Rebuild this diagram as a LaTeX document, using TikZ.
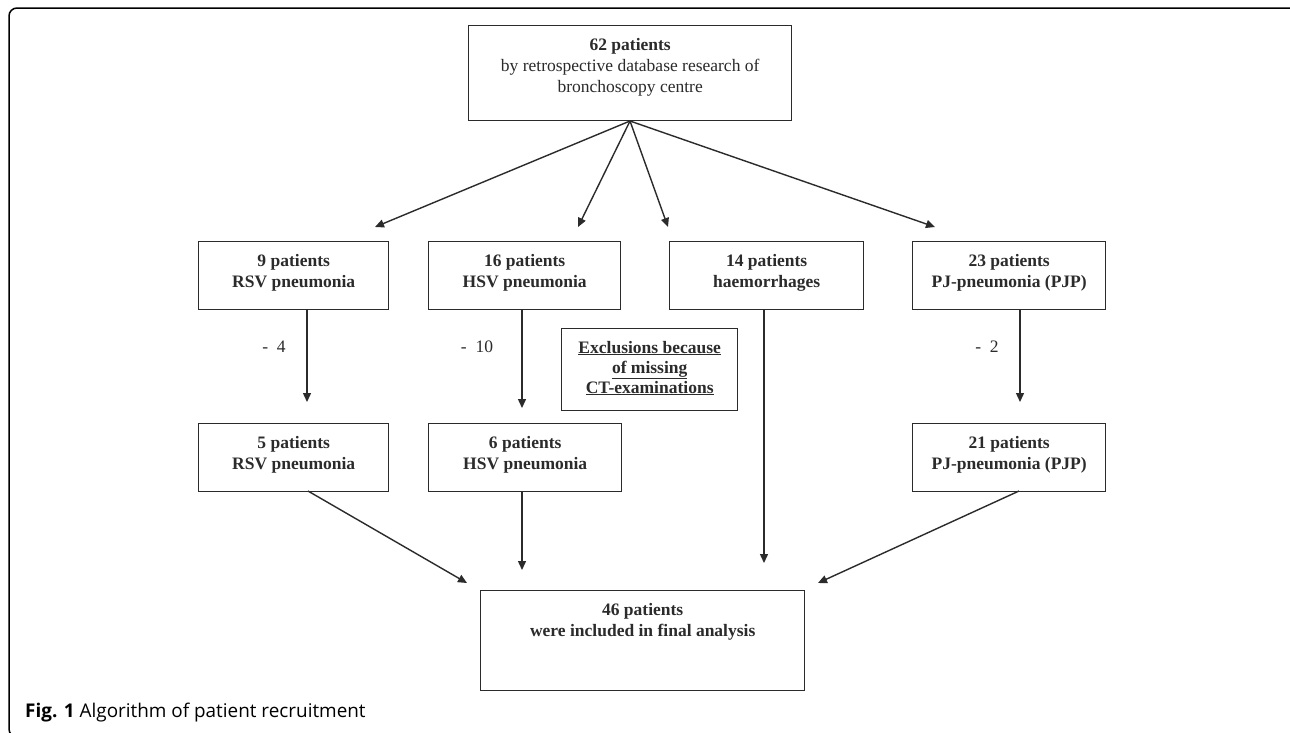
\documentclass[tikz,border=0pt]{standalone}
\usepackage{fontspec}
\setmainfont{Liberation Serif}
\newfontfamily\capfont{Open Sans}
\usetikzlibrary{arrows.meta}
\definecolor{ink}{HTML}{2B2B2B}
\begin{document}
\begin{tikzpicture}[x=1pt,y=-1pt,
  box/.style={draw=ink, line width=1.4pt, rectangle, inner sep=0pt, anchor=north west},
  txt/.style={inner sep=0pt, anchor=north, align=center, text=ink, font=\fontsize{17.5}{21}\selectfont},
  lbl/.style={inner sep=0pt, text=ink, font=\fontsize{17.5}{21}\selectfont},
  conn/.style={draw=ink, line width=1.4pt, -{Triangle[length=9pt,width=8pt]}},
  frame/.style={draw=black, line width=1.5pt, rounded corners=8pt}]
\useasboundingbox (0,0) rectangle (1290,732);
\fill[white] (0,0) rectangle (1290,732);
% outer frame
\draw[frame] (1297,30) -- (1297,8) -- (9,8) -- (9,737) -- (40,737);

% boxes
\node[box, minimum width=323pt, minimum height=95pt] (top) at (468,25) {};
\node[txt] (topt) at ([yshift=-12.7pt]top.north) {\textbf{62 patients}\\by retrospective database research of\\bronchoscopy centre};

\node[box, minimum width=190pt, minimum height=68pt] (rsva) at (198,241) {};
\node[txt] (rsvat) at ([yshift=-12.7pt]rsva.north) {\textbf{9 patients}\\\textbf{RSV pneumonia}};
\node[box, minimum width=192pt, minimum height=68pt] (hsva) at (428,241) {};
\node[txt] (hsvat) at ([yshift=-12.7pt]hsva.north) {\textbf{16 patients}\\\textbf{HSV pneumonia}};
\node[box, minimum width=194pt, minimum height=68pt] (haem) at (669,241) {};
\node[txt] (haemt) at ([yshift=-12.7pt]haem.north) {\textbf{14 patients}\\\textbf{haemorrhages}};
\node[box, minimum width=193pt, minimum height=68pt] (pjpa) at (912,241) {};
\node[txt] (pjpat) at ([yshift=-12.7pt]pjpa.north) {\textbf{23 patients}\\\textbf{PJ-pneumonia (PJP)}};

\node[box, minimum width=176pt, minimum height=82pt] (excl) at (561,328) {};
\node[txt, font=\fontsize{17.5}{20}\selectfont] (exclt) at ([yshift=-12.7pt]excl.north) {\textbf{\underline{Exclusions because}}\\\textbf{\underline{of missing}}\\\textbf{\underline{CT-examinations}}};

\node[box, minimum width=190pt, minimum height=68pt] (rsvb) at (198,423) {};
\node[txt] (rsvbt) at ([yshift=-12.7pt]rsvb.north) {\textbf{5 patients}\\\textbf{RSV pneumonia}};
\node[box, minimum width=193pt, minimum height=68pt] (hsvb) at (428,423) {};
\node[txt] (hsvbt) at ([yshift=-12.7pt]hsvb.north) {\textbf{6 patients}\\\textbf{HSV pneumonia}};
\node[box, minimum width=193pt, minimum height=68pt] (pjpb) at (912,423) {};
\node[txt] (pjpbt) at ([yshift=-12.7pt]pjpb.north) {\textbf{21 patients}\\\textbf{PJ-pneumonia (PJP)}};

\node[box, minimum width=324pt, minimum height=100pt] (fin) at (480,590) {};
\node[txt] (fint) at ([yshift=-13.5pt]fin.north) {\textbf{46 patients}\\\textbf{were included in final analysis}};

% labels
\node[lbl] (m4) at (274,347) {-\ \ 4};
\node[lbl] (m10) at (477,347) {-\ \ 10};
\node[lbl] (m2) at (987,347) {-\ \ 2};

% arrow end points
\coordinate (o) at (630,121);
\coordinate (t1) at (375,227);
\coordinate (t2) at (578,227);
\coordinate (t3) at (668,227);
\coordinate (t4) at (935,227);
\coordinate (v1s) at (307,309);
\coordinate (v1e) at (307,402);
\coordinate (v2s) at (522,309);
\coordinate (v2e) at (522,408);
\coordinate (v3s) at (1020,309);
\coordinate (v3e) at (1020,402);
\coordinate (h1s) at (764,309);
\coordinate (h1e) at (764,563);
\coordinate (b1s) at (308,491);
\coordinate (b1e) at (467,583);
\coordinate (b2s) at (522,491);
\coordinate (b2e) at (522,570);
\coordinate (b3s) at (1019,491);
\coordinate (b3e) at (818,583);

\draw[conn] (o) -- (t1);
\draw[conn] (o) -- (t2);
\draw[conn] (o) -- (t3);
\draw[conn] (o) -- (t4);
\draw[conn] (v1s) -- (v1e);
\draw[conn] (v2s) -- (v2e);
\draw[conn] (v3s) -- (v3e);
\draw[conn] (h1s) -- (h1e);
\draw[conn] (b1s) -- (b1e);
\draw[conn] (b2s) -- (b2e);
\draw[conn] (b3s) -- (b3e);

% caption
\node[inner sep=0pt, anchor=base west, font=\capfont\fontsize{18.9}{22}\selectfont] (cap) at (25,717) {\textbf{Fig. 1} Algorithm of patient recruitment};
\end{tikzpicture}
\end{document}
